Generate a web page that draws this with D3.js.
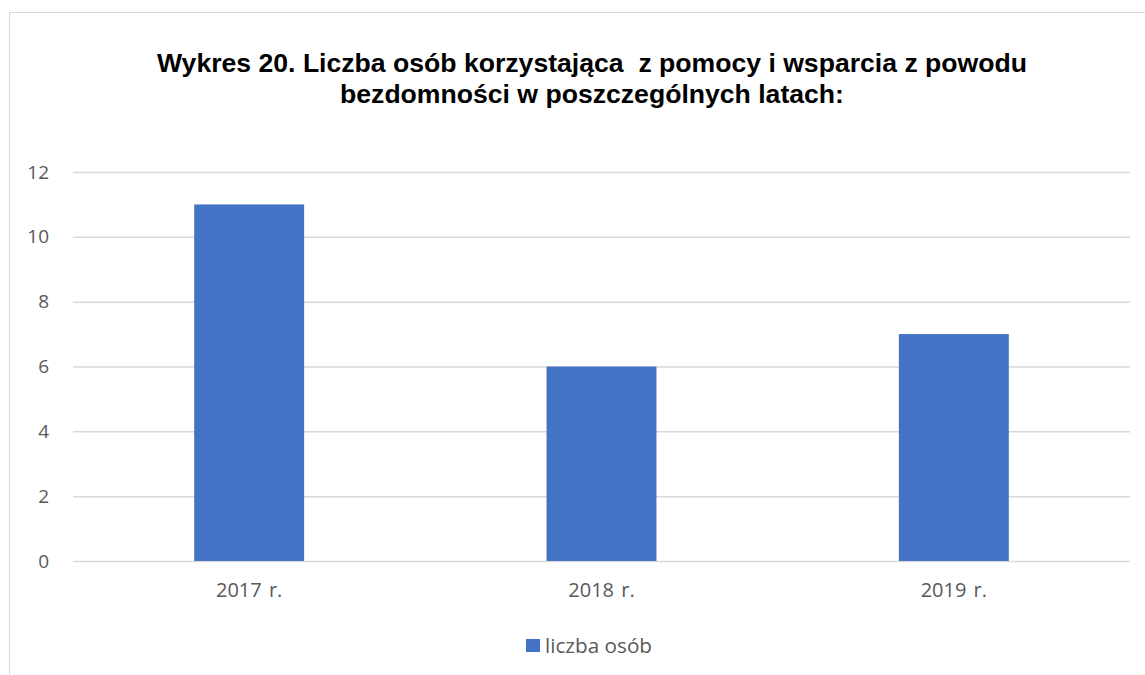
<!DOCTYPE html>
<html><head><meta charset="utf-8">
<script src="https://cdn.jsdelivr.net/npm/d3@7"></script>
<style>body{margin:0;background:#fff;}svg{display:block;}</style>
</head><body>
<svg id="chart" width="1145" height="675"></svg>
<script>
const categories = ["2017 r.", "2018 r.", "2019 r."];
const values = [11, 6, 7];
const yTicks = [0, 2, 4, 6, 8, 10, 12];
const seriesName = "liczba osób";
const titleLines = ["Wykres 20. Liczba osób korzystająca  z pomocy i wsparcia z powodu", "bezdomności w poszczególnych latach:"];

(function () {
const svg = d3.select("#chart");
svg.append("rect").attr("x", 9.5).attr("y", 12.5).attr("width", 1166).attr("height", 700)
  .attr("fill", "#fff").attr("stroke", "#d9d9d9").attr("stroke-width", 1);

const pLeft = 73, pRight = 1130, pTop = 172, pBottom = 561;
const x = d3.scaleBand().domain(categories).range([pLeft, pRight]).paddingInner(0.688).paddingOuter(0.344);
const y = d3.scaleLinear().domain([0, 12]).range([pBottom, pTop]);

const title = svg.append("text").attr("text-anchor", "middle")
  .attr("font-family", "'Liberation Sans', Arial, sans-serif").attr("font-weight", "bold")
  .attr("font-size", 26.6).attr("fill", "#000").style("white-space", "pre");
titleLines.forEach((t, i) => title.append("tspan").attr("x", 592).attr("y", 72 + i * 30.5).text(t));

const yAxis = d3.axisLeft(y).tickValues(yTicks).tickSize(-(pRight - pLeft)).tickPadding(24);
const gy = svg.append("g").attr("transform", `translate(${pLeft},0)`).call(yAxis);
gy.select(".domain").remove();
gy.selectAll(".tick line").attr("stroke", "#d9d9d9").attr("stroke-width", 1.5);
gy.selectAll(".tick text").attr("font-family", "'Open Sans', sans-serif").attr("font-size", 19).attr("fill", "#595959");

svg.append("g").selectAll("rect").data(values).join("rect")
  .attr("x", (d, i) => x(categories[i])).attr("width", x.bandwidth())
  .attr("y", d => y(d)).attr("height", d => y(0) - y(d)).attr("fill", "#4472c4");

const xAxis = d3.axisBottom(x).tickSize(0).tickPadding(22);
const gx = svg.append("g").attr("transform", `translate(0,${pBottom})`).call(xAxis);
gx.select(".domain").remove();
gx.selectAll(".tick text").attr("font-family", "'Open Sans', sans-serif").attr("font-size", 20).attr("fill", "#595959")
  .style("word-spacing", "2px");

const lg = svg.append("g");
lg.append("rect").attr("x", 526).attr("y", 639).attr("width", 14).attr("height", 13).attr("fill", "#4472c4");
lg.append("text").attr("x", 545).attr("y", 653).attr("font-family", "'Open Sans', sans-serif")
  .attr("font-size", 20.7).attr("fill", "#595959").text(seriesName);
})();
</script>
</body></html>
